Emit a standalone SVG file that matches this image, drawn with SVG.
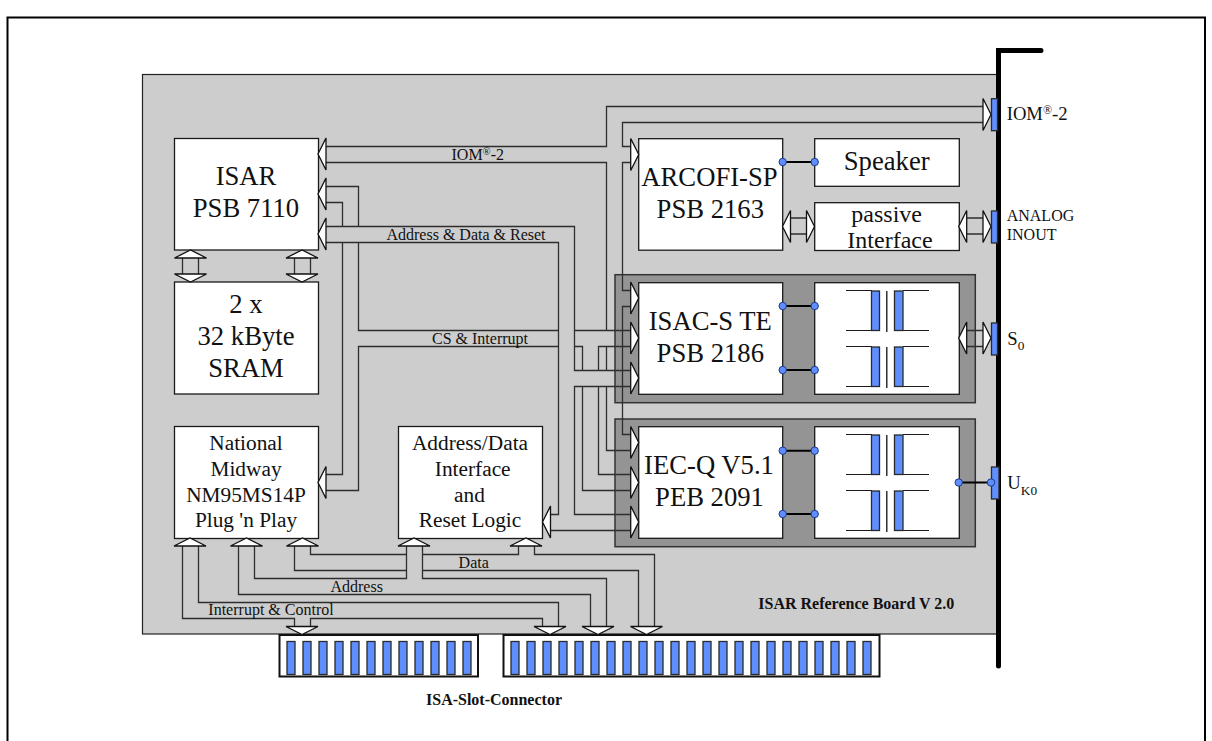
<svg xmlns="http://www.w3.org/2000/svg" width="1212" height="741" viewBox="0 0 1212 741">
<style>
text{font-family:"Liberation Serif","Times New Roman",serif;fill:#111}
.c{text-anchor:middle}
.f27{font-size:26.67px}.f24{font-size:24px}.f21{font-size:21.33px}.f16{font-size:16px}.f19{font-size:18.67px}
.b{font-weight:bold;font-size:16px}
.box{fill:#fff;stroke:#1a1a1a;stroke-width:1.3}
.pipe{fill:none;stroke:#2e2e2e;stroke-width:1.3}
.link{fill:none;stroke:#000;stroke-width:2}
.pin{fill:#5f8fff;stroke:#2a2a2a;stroke-width:1.3}
.dot{fill:#5f8fff;stroke:#1f3a80;stroke-width:1}
.thin{fill:none;stroke:#1a1a1a;stroke-width:1.2}
.head{fill:#fff;stroke:#111;stroke-width:1.3}
</style>
<defs>
<polygon id="hr" class="head" points="0,-16 8,0 0,16"/>
<polygon id="hl" class="head" points="8,-16 0,0 8,16"/>
<polygon id="hu" class="head" points="-16,8 0,0 16,8"/>
<polygon id="hd" class="head" points="-16,0 0,8 16,0"/>
<g id="xf">
<path class="thin" d="M846 0.5H872M846 40.5H872M903 0.5H929M903 40.5H929"/>
<path d="M886.8 1V42" stroke="#111" stroke-width="1.3" fill="none"/>
<rect class="pin" x="871.5" y="1" width="8" height="39.5"/>
<rect class="pin" x="894.5" y="1" width="8.5" height="39.5"/>
</g>
<rect id="sp" class="pin" x="0" y="641.5" width="8" height="33"/>
</defs>
<path id="page-frame" d="M7.5 741V17.5H1205V741" fill="none" stroke="#000" stroke-width="2"/>
<rect id="board" x="142.5" y="74.5" width="856" height="559.5" fill="#cdcdcd" stroke="#222" stroke-width="1.2"/>
<g id="slot-connector-1">
<rect x="279.5" y="635" width="198.5" height="41.5" fill="#fff" stroke="#111" stroke-width="2"/>
<use href="#sp" x="287"/><use href="#sp" x="303"/><use href="#sp" x="319"/><use href="#sp" x="335"/><use href="#sp" x="351"/><use href="#sp" x="367"/><use href="#sp" x="383"/><use href="#sp" x="399"/><use href="#sp" x="415"/><use href="#sp" x="431"/><use href="#sp" x="447"/><use href="#sp" x="463"/>
</g>
<g id="slot-connector-2">
<rect x="503.5" y="635" width="376" height="41.5" fill="#fff" stroke="#111" stroke-width="2"/>
<use href="#sp" x="511"/><use href="#sp" x="527"/><use href="#sp" x="543"/><use href="#sp" x="559"/><use href="#sp" x="575"/><use href="#sp" x="591"/><use href="#sp" x="607"/><use href="#sp" x="623"/><use href="#sp" x="639"/><use href="#sp" x="655"/><use href="#sp" x="671"/><use href="#sp" x="687"/><use href="#sp" x="703"/><use href="#sp" x="719"/><use href="#sp" x="735"/><use href="#sp" x="751"/><use href="#sp" x="767"/><use href="#sp" x="783"/><use href="#sp" x="799"/><use href="#sp" x="815"/><use href="#sp" x="831"/><use href="#sp" x="847"/><use href="#sp" x="863"/>
</g>
<g id="panels">
<rect x="615" y="274.7" width="360.3" height="128" fill="#949494" stroke="#333" stroke-width="1.5"/>
<rect x="615" y="419" width="360.3" height="127.7" fill="#949494" stroke="#333" stroke-width="1.5"/>
</g>
<g id="connectors">
<path class="pipe" d="M326 146.5H606.5V106.5H983M326 162.5H606.5V330.5M983 122.5H622.5V146.5H631M631 162.5H622.5V290.5H631M631 306.5H622.5V434.5H631M631 450.5H606.5V386.5M606.5 346.5V370.5"/>
<path class="pipe" d="M326 186.5H358.5V226.5M358.5 242.5V330.5H558.5M574.5 330.5H631M326 202.5H342.5V226.5M342.5 242.5V474.5H326M326 490.5H358.5V346.5H558.5M574.5 346.5H582.5V370.5M598.5 370.5V346.5H631"/>
<path class="pipe" d="M326 226.5H574.5V370.5H631M326 242.5H558.5V514.5H551M631 386.5H574.5V514.5H631M551 530.5H631M582.5 386.5V490.5H631M598.5 386.5V474.5H631"/>
<path class="pipe" d="M182.5 546V618.5H294.5V627M310.5 627V618.5H542.5V627M198.5 546V602.5H558.5V627M238.5 546V594.5H590.5V627M254.5 546V578.5H406.5V546M294.5 546V570.5H406.5M310.5 546V554.5H406.5M422.5 546V578.5H606.5V627M422.5 570.5H638.5V627M422.5 554.5H518.5V546M534.5 546V554.5H654.5V627"/>
<path class="pipe" d="M182.5 258V274M198.5 258V274M294.5 258V274M310.5 258V274M790 218H807M790 234H807M966 218H983M966 234H983M966 330.5H983M966 346.5H983"/>
<path class="link" d="M782.7 162H814.7M782.7 306H814.7M782.7 370H814.7M782.7 450.7H814.7M782.7 514H814.7M958.7 482.5H991"/>
</g>
<g id="isar"><rect class="box" x="174.5" y="138.5" width="144" height="111.5"/><text class="c f27" x="246" y="185">ISAR</text><text class="c f27" x="246" y="217">PSB 7110</text></g>
<g id="sram"><rect class="box" x="174.5" y="282" width="144" height="112"/><text class="c f27" x="246" y="313">2 x</text><text class="c f27" x="246" y="345">32 kByte</text><text class="c f27" x="246" y="377">SRAM</text></g>
<g id="national"><rect class="box" x="174.5" y="426.5" width="144" height="112"/><text class="c f21" x="246" y="450">National</text><text class="c f21" x="246" y="476">Midway</text><text class="c f21" x="246" y="501.7">NM95MS14P</text><text class="c f21" x="246" y="527">Plug 'n Play</text></g>
<g id="address-data"><rect class="box" x="398.5" y="426.5" width="144" height="112"/><text class="c f21" x="470" y="450">Address/Data</text><text class="c f21" x="472.7" y="476">Interface</text><text class="c f21" x="469.5" y="501.7">and</text><text class="c f21" x="470" y="527">Reset Logic</text></g>
<g id="arcofi"><rect class="box" x="638.7" y="138.7" width="144" height="111.5"/><text class="c f27" x="709.5" y="185.7">ARCOFI-SP</text><text class="c f27" x="710.3" y="217.7">PSB 2163</text></g>
<g id="speaker"><rect class="box" x="814.7" y="138.7" width="144.6" height="47.6"/><text class="c f27" x="886.7" y="170">Speaker</text></g>
<g id="passive"><rect class="box" x="814.7" y="202.7" width="144.6" height="47.8"/><text class="c f24" x="886.7" y="221.7">passive</text><text class="c f24" x="890" y="247.7">Interface</text></g>
<g id="isac"><rect class="box" x="638.7" y="282.7" width="144" height="111.6"/><text class="c f27" x="710.3" y="330">ISAC-S TE</text><text class="c f27" x="710.3" y="362">PSB 2186</text></g>
<g id="isac-transformer"><rect class="box" x="814.7" y="282.7" width="144.6" height="111.6"/><use href="#xf" y="290"/><use href="#xf" y="346"/></g>
<g id="iec"><rect class="box" x="638.7" y="426.7" width="144" height="111.6"/><text class="c f27" x="709" y="474">IEC-Q V5.1</text><text class="c f27" x="709.5" y="506">PEB 2091</text></g>
<g id="iec-transformer"><rect class="box" x="814.7" y="426.7" width="144.6" height="111.6"/><use href="#xf" y="434"/><use href="#xf" y="490"/></g>
<g id="arrowheads">
<use href="#hl" x="318" y="154"/><use href="#hl" x="318" y="194"/><use href="#hl" x="318" y="234"/><use href="#hl" x="318" y="482.5"/><use href="#hl" x="542.5" y="522"/>
<use href="#hr" x="630.7" y="154.5"/><use href="#hr" x="630.7" y="298"/><use href="#hr" x="630.7" y="338"/><use href="#hr" x="630.7" y="378"/><use href="#hr" x="630.7" y="442.5"/><use href="#hr" x="630.7" y="482.5"/><use href="#hr" x="630.7" y="522"/>
<use href="#hr" x="983" y="114.5"/>
<use href="#hu" x="190.5" y="250"/><use href="#hd" x="190.5" y="274"/><use href="#hu" x="302" y="250"/><use href="#hd" x="302" y="274"/>
<use href="#hl" x="782.5" y="226.5"/><use href="#hr" x="806.5" y="226.5"/><use href="#hl" x="958.7" y="226.5"/><use href="#hr" x="983" y="226.5"/><use href="#hl" x="958.7" y="338"/><use href="#hr" x="983" y="338"/>
<use href="#hu" x="190" y="538"/><use href="#hu" x="246.5" y="538"/><use href="#hu" x="302.5" y="538"/><use href="#hu" x="414" y="538"/><use href="#hu" x="526" y="538"/>
<use href="#hd" x="302" y="626.5"/><use href="#hd" x="550" y="626.5"/><use href="#hd" x="598" y="626.5"/><use href="#hd" x="646.5" y="626.5"/>
</g>
<g id="bracket">
<path d="M1041 50.5H998.5V666" fill="none" stroke="#000" stroke-width="5" stroke-linecap="round"/>
<rect class="pin" x="991.5" y="98.7" width="6" height="32"/>
<rect class="pin" x="991.5" y="211" width="6" height="32"/>
<rect class="pin" x="991.5" y="323" width="6" height="32"/>
<rect class="pin" x="991.5" y="467" width="7.5" height="32"/>
</g>
<g id="dots">
<circle class="dot" cx="782.7" cy="162" r="3.7"/><circle class="dot" cx="814.7" cy="162" r="3.7"/>
<circle class="dot" cx="782.7" cy="306" r="3.7"/><circle class="dot" cx="814.7" cy="306" r="3.7"/>
<circle class="dot" cx="782.7" cy="370" r="3.7"/><circle class="dot" cx="814.7" cy="370" r="3.7"/>
<circle class="dot" cx="782.7" cy="450.7" r="3.7"/><circle class="dot" cx="814.7" cy="450.7" r="3.7"/>
<circle class="dot" cx="782.7" cy="514" r="3.7"/><circle class="dot" cx="814.7" cy="514" r="3.7"/>
<circle class="dot" cx="958.7" cy="482.5" r="3.7"/><circle class="dot" cx="991" cy="482.5" r="3.7"/>
</g>
<g id="labels">
<text class="f16" x="451.5" y="160">IOM<tspan font-size="10.67" dy="-5">®</tspan><tspan dy="5">-2</tspan></text>
<text class="c f16" x="466" y="240">Address &amp; Data &amp; Reset</text>
<text class="c f16" x="480" y="344">CS &amp; Interrupt</text>
<text class="c f16" x="473.7" y="567.7">Data</text>
<text class="c f16" x="356.7" y="591.7">Address</text>
<text class="c f16" x="271" y="615">Interrupt &amp; Control</text>
<text class="f19" x="1006.7" y="120">IOM<tspan font-size="12" dy="-6">®</tspan><tspan dy="6">-2</tspan></text>
<text class="f16" x="1006.7" y="220.7">ANALOG</text>
<text class="f16" x="1006.7" y="240">INOUT</text>
<text class="f19" x="1007.3" y="345">S<tspan font-size="13.33" dy="5">0</tspan></text>
<text class="f19" x="1007.3" y="489">U<tspan font-size="13.33" dy="6">K0</tspan></text>
<text class="b" x="758.3" y="609">ISAR Reference Board V 2.0</text>
<text class="b" x="426" y="705">ISA-Slot-Connector</text>
</g>
</svg>
